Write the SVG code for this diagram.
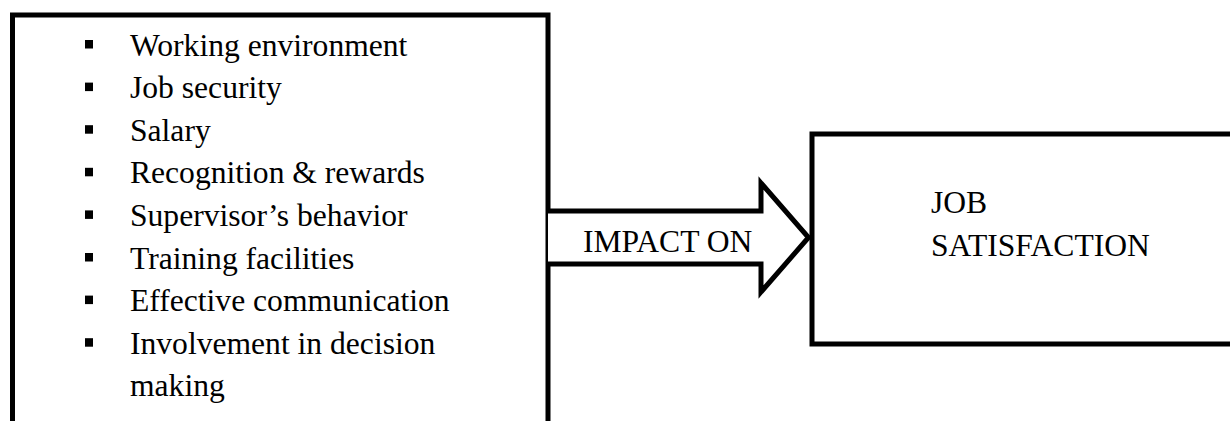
<svg xmlns="http://www.w3.org/2000/svg" width="1230" height="421" viewBox="0 0 1230 421">
  <style>
    .line { fill: none; stroke: #000; stroke-width: 5; stroke-linejoin: miter; }
    .arrow { fill: #fff; stroke: #000; stroke-width: 5; stroke-linejoin: miter; stroke-miterlimit: 10; }
    .t { font-size: 31.6px; fill: #000; }
    .b { fill: #000; }
  </style>
  <rect width="1230" height="421" fill="#fff"/>
  <g font-family="'Liberation Serif', 'DejaVu Serif', serif">
  <g id="factors">
    <path class="line" d="M12.5,430 V15 H548 V430"/>
    <rect class="b" x="85" y="40" width="8" height="8.5"/>
    <text class="t" x="130" y="55.5">Working environment</text>
    <rect class="b" x="85" y="82.6" width="8" height="8.5"/>
    <text class="t" x="130" y="98.1">Job security</text>
    <rect class="b" x="85" y="125.2" width="8" height="8.5"/>
    <text class="t" x="130" y="140.7">Salary</text>
    <rect class="b" x="85" y="167.8" width="8" height="8.5"/>
    <text class="t" x="130" y="183.3">Recognition &amp; rewards</text>
    <rect class="b" x="85" y="210.4" width="8" height="8.5"/>
    <text class="t" x="130" y="225.9">Supervisor’s behavior</text>
    <rect class="b" x="85" y="253" width="8" height="8.5"/>
    <text class="t" x="130" y="268.5">Training facilities</text>
    <rect class="b" x="85" y="295.6" width="8" height="8.5"/>
    <text class="t" x="130" y="311.1">Effective communication</text>
    <rect class="b" x="85" y="338.2" width="8" height="8.5"/>
    <text class="t" x="130" y="353.7">Involvement in decision</text>
    <text class="t" x="130" y="396.3">making</text>
  </g>
  <g id="connectors">
    <path class="arrow" d="M548,211 H761 V183 L808.5,237.5 L761,292 V264 H548"/>
    <text class="t" x="583" y="252.3" font-size="30.5px">IMPACT ON</text>
  </g>
  <g id="job-satisfaction">
    <path class="line" d="M1240,134 H812 V344 H1240"/>
    <text class="t" x="931" y="213.3">JOB</text>
    <text class="t" x="931" y="256">SATISFACTION</text>
  </g>
  </g>
</svg>
